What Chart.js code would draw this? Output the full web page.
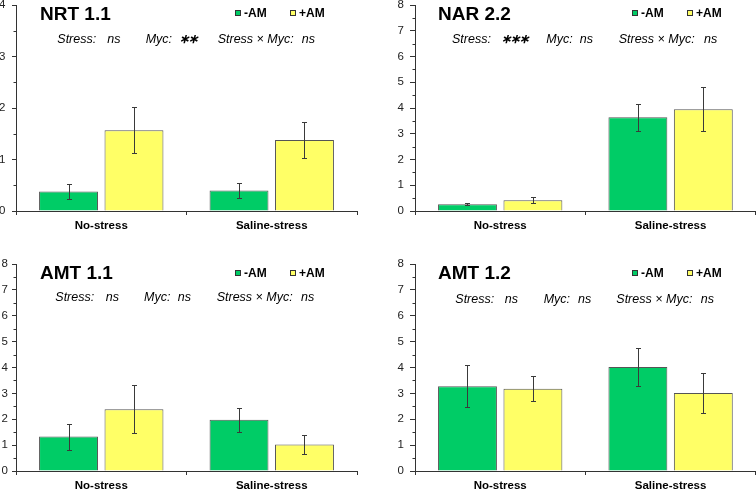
<!DOCTYPE html>
<html>
<head>
<meta charset="utf-8">
<script src="https://cdn.jsdelivr.net/npm/chart.js@4/dist/chart.umd.min.js"></script>
<style>
html, body { margin: 0; padding: 0; background: #fff; }
#wrap { position: relative; width: 756px; height: 489px; overflow: hidden; font-family: "Liberation Sans", Arial, sans-serif; }
canvas { position: absolute; }
.t { position: absolute; line-height: 1; transform: translateY(-50%); white-space: nowrap; color: #000; }
.title { font-weight: bold; font-size: 19px; }
.leg { font-weight: bold; font-size: 12px; }
.st { font-style: italic; font-size: 12.5px; }
.ast { font-weight: bold; letter-spacing: -1px; }
.sw { position: absolute; width: 6px; height: 6px; box-sizing: border-box; border: 1px solid #333; }
</style>
</head>
<body>
<div id="wrap"></div>
<script>
// categories and series
const categories = ['No-stress', 'Saline-stress'];
const seriesNames = ['-AM', '+AM'];
const seriesColors = ['#00cc66', '#ffff66'];

// NRT 1.1
const nrtMinus = [0.38, 0.40];
const nrtPlus = [1.57, 1.38];
const nrtMinusErr = [0.15, 0.14];
const nrtPlusErr = [0.45, 0.35];

// NAR 2.2
const narMinus = [0.26, 3.64];
const narPlus = [0.42, 3.95];
const narMinusErr = [0.04, 0.53];
const narPlusErr = [0.11, 0.85];

// AMT 1.1
const amt11Minus = [1.33, 1.98];
const amt11Plus = [2.39, 1.02];
const amt11MinusErr = [0.50, 0.47];
const amt11PlusErr = [0.92, 0.37];

// AMT 1.2
const amt12Minus = [3.28, 4.02];
const amt12Plus = [3.18, 3.01];
const amt12MinusErr = [0.82, 0.72];
const amt12PlusErr = [0.49, 0.78];

const panelTitles = ['NRT 1.1', 'NAR 2.2', 'AMT 1.1', 'AMT 1.2'];
const yMax = [4, 8, 8, 8];
const statStress = ['ns', '∗∗∗', 'ns', 'ns'];
const statMyc = ['∗∗', 'ns', 'ns', 'ns'];
const statInter = ['ns', 'ns', 'ns', 'ns'];

const Y_W = 30, X_H = 24;

// plot area and text positions of every panel
const panels = [
    { L: 16, R: 357, T: 5, B: 211, tick: 4, pad: 6.5, titleX: 40, titleY: 12.7, legX: 235, legY: 13.3,
      stY: 39, stX: [57.3, 107.3, 145.7, 179, 217.7, 301.7],
      minus: nrtMinus, plus: nrtPlus, minusErr: nrtMinusErr, plusErr: nrtPlusErr },
    { L: 414.7, R: 755.5, T: 5, B: 211, tick: 5, pad: 6, titleX: 438, titleY: 12.7, legX: 632, legY: 13.3,
      stY: 39.3, stX: [452, 501, 546.3, 579.7, 618.7, 704],
      minus: narMinus, plus: narPlus, minusErr: narMinusErr, plusErr: narPlusErr },
    { L: 16, R: 357, T: 264.3, B: 471.7, tick: 4, pad: 4, titleX: 40, titleY: 272.3, legX: 235, legY: 273.3,
      stY: 296.7, stX: [55.3, 105.7, 144, 177.7, 216.7, 301],
      minus: amt11Minus, plus: amt11Plus, minusErr: amt11MinusErr, plusErr: amt11PlusErr },
    { L: 414.7, R: 755.5, T: 264.3, B: 471.7, tick: 5, pad: 6, titleX: 438, titleY: 272.3, legX: 632, legY: 273.3,
      stY: 299.3, stX: [455.3, 504.7, 543.7, 578, 616.3, 700.7],
      minus: amt12Minus, plus: amt12Plus, minusErr: amt12MinusErr, plusErr: amt12PlusErr }
];

const errorBars = {
    id: 'errorBars',
    afterDatasetsDraw: function (chart) {
        const ctx = chart.ctx;
        const y = chart.scales.y;
        ctx.save();
        ctx.strokeStyle = '#3a3a3a';
        ctx.lineWidth = 1;
        chart.data.datasets.forEach(function (ds, i) {
            chart.getDatasetMeta(i).data.forEach(function (bar, j) {
                const m = ds.data[j], e = ds.err[j];
                const x = Math.round(bar.x) + 0.5;
                const y1 = Math.round(y.getPixelForValue(m + e)) + 0.5;
                const y2 = Math.round(y.getPixelForValue(m - e)) + 0.5;
                ctx.beginPath();
                ctx.moveTo(x, y1); ctx.lineTo(x, y2);
                ctx.moveTo(x - 2.5, y1); ctx.lineTo(x + 2.5, y1);
                ctx.moveTo(x - 2.5, y2); ctx.lineTo(x + 2.5, y2);
                ctx.stroke();
            });
        });
        ctx.restore();
    },
    afterDraw: function (chart) {
        // minor ticks on the y axis
        const ctx = chart.ctx;
        const y = chart.scales.y;
        const left = chart.chartArea.left;
        ctx.save();
        ctx.strokeStyle = '#333';
        ctx.lineWidth = 1;
        ctx.beginPath();
        for (let v = 0.5; v < y.max; v += 1) {
            const py = Math.round(y.getPixelForValue(v)) + 0.5;
            ctx.moveTo(left - 2.5, py);
            ctx.lineTo(left, py);
        }
        ctx.stroke();
        ctx.restore();
    }
};

function addText(wrap, cls, text, x, y) {
    const d = document.createElement('div');
    d.className = 't ' + cls;
    d.textContent = text;
    d.style.left = x + 'px';
    d.style.top = y + 'px';
    wrap.appendChild(d);
}

function makePanel(wrap, p, k) {
    const cx = p.L - Y_W - 2;
    const cy = p.T - 17;
    const ch = p.B + 30 - cy;
    const cw = Math.ceil(p.R - cx) + 2;
    const canvas = document.createElement('canvas');
    canvas.width = cw;
    canvas.height = ch;
    canvas.style.left = cx + 'px';
    canvas.style.top = cy + 'px';
    wrap.appendChild(canvas);

    new Chart(canvas, {
        type: 'bar',
        data: {
            labels: categories,
            datasets: [
                { label: seriesNames[0], data: p.minus, err: p.minusErr, backgroundColor: seriesColors[0] },
                { label: seriesNames[1], data: p.plus, err: p.plusErr, backgroundColor: seriesColors[1] }
            ]
        },
        options: {
            responsive: false,
            animation: false,
            devicePixelRatio: 1,
            layout: {
                padding: { left: p.L - cx - Y_W, top: 17, right: cx + cw - p.R, bottom: 30 - X_H }
            },
            datasets: {
                bar: { categoryPercentage: 0.768, barPercentage: 0.9, borderWidth: 1, borderColor: '#555' }
            },
            plugins: { legend: { display: false }, tooltip: { enabled: false } },
            scales: {
                x: {
                    afterFit: function (s) { s.height = X_H; },
                    grid: { drawOnChartArea: false, tickLength: 4, tickColor: '#333', offset: true },
                    border: { color: '#333' },
                    ticks: { color: '#000', padding: 4, font: { family: 'Liberation Sans', size: 11.5, weight: 'bold' } }
                },
                y: {
                    min: 0, max: yMax[k],
                    afterFit: function (s) { s.width = Y_W; },
                    grid: { drawOnChartArea: false, tickLength: p.tick, tickColor: '#333' },
                    border: { color: '#333' },
                    ticks: { stepSize: 1, color: '#222', padding: p.pad, font: { family: 'Liberation Sans', size: 11.5 } }
                }
            }
        },
        plugins: [errorBars]
    });

    addText(wrap, 'title', panelTitles[k], p.titleX, p.titleY);

    [0, 1].forEach(function (i) {
        const sx = p.legX + i * 55;
        const sw = document.createElement('div');
        sw.className = 'sw';
        sw.style.left = sx + 'px';
        sw.style.top = (p.legY - 3) + 'px';
        sw.style.background = seriesColors[i];
        wrap.appendChild(sw);
        addText(wrap, 'leg', seriesNames[i], sx + 9, p.legY);
    });

    const parts = ['Stress:', statStress[k], 'Myc:', statMyc[k], 'Stress × Myc:', statInter[k]];
    parts.forEach(function (txt, i) {
        addText(wrap, txt.indexOf('∗') >= 0 ? 'st ast' : 'st', txt, p.stX[i], p.stY);
    });
}

const wrap = document.getElementById('wrap');
panels.forEach(function (p, k) { makePanel(wrap, p, k); });
</script>
</body>
</html>
